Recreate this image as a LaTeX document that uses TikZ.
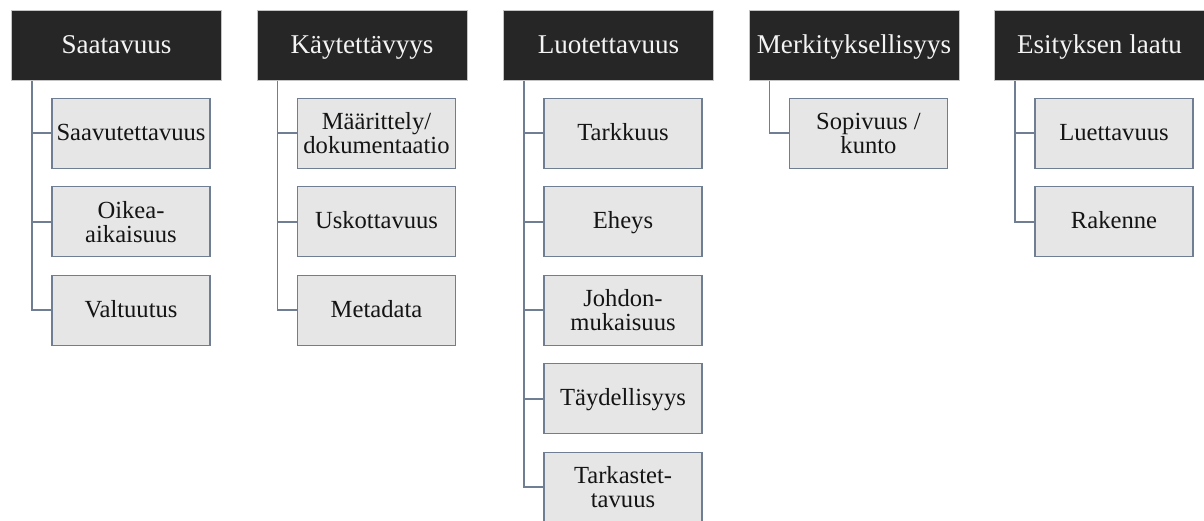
\documentclass[tikz,border=0pt]{standalone}
\usepackage{fontspec}
\setmainfont{Liberation Serif}
\definecolor{hdrfill}{HTML}{262626}
\definecolor{hdrline}{HTML}{C4C4C4}
\definecolor{hdrtext}{HTML}{F4F4F4}
\definecolor{itemfill}{HTML}{E6E6E6}
\definecolor{itemline}{HTML}{6F7E93}
\definecolor{itemtext}{HTML}{141414}
\begin{document}
\begin{tikzpicture}[x=1pt,y=-1pt,
  header/.style={anchor=north west, draw=hdrline, line width=1pt, fill=hdrfill,
    text=hdrtext, minimum width=210pt, minimum height=70pt, inner sep=0pt,
    text height=19pt, text depth=2.4pt,
    align=center, font=\fontsize{27.1}{27.1}\selectfont},
  item/.style={anchor=center, draw=itemline, line width=1.3pt, fill=itemfill,
    text=itemtext, minimum width=158pt, minimum height=70pt, inner sep=0pt,
    align=center, font=\fontsize{24.6}{24}\selectfont},
  oneline/.style={item, text height=17pt, text depth=3pt},
  conn/.style={draw=itemline, line width=1.7pt}]
\useasboundingbox (0,0) rectangle (1204,520);

% column headers
\node[header] (h1) at (11,10)    {Saatavuus};
\node[header] (h2) at (256.5,10) {Käytettävyys};
\node[header] (h3) at (503,10)   {Luotettavuus};
\node[header] (h4) at (748.5,10) {Merkityksellisyys};
\node[header] (h5) at (994,10)   {Esityksen laatu};

% trunk start points below each header
\foreach \i in {1,...,5} {
  \coordinate (t\i) at ([xshift=21pt]h\i.south west);
}

% Saatavuus
\node[oneline] (a1) at (131,133.3) {Saavutettavuus};
\node[item]    (a2) at (131,221.8) {Oikea-\\aikaisuus};
\node[oneline] (a3) at (131,310.3) {Valtuutus};

% Käytettävyys
\node[item]    (b1) at (376.5,133.3) {Määrittely/\\dokumentaatio};
\node[oneline] (b2) at (376.5,221.8) {Uskottavuus};
\node[oneline] (b3) at (376.5,310.3) {Metadata};

% Luotettavuus
\node[oneline] (c1) at (623,133.3) {Tarkkuus};
\node[oneline] (c2) at (623,221.8) {Eheys};
\node[item]    (c3) at (623,310.3) {Johdon-\\mukaisuus};
\node[oneline] (c4) at (623,398.8) {Täydellisyys};
\node[item]    (c5) at (623,487.3) {Tarkastet-\\tavuus};

% Merkityksellisyys
\node[item] (d1) at (868.5,133.3) {Sopivuus /\\kunto};

% Esityksen laatu
\node[oneline] (e1) at (1114,133.3) {Luettavuus};
\node[oneline] (e2) at (1114,221.8) {Rakenne};

% connectors
\foreach \n in {a1,a2,a3} \draw[conn] (t1) |- (\n.west);
\foreach \n in {b1,b2,b3} \draw[conn] (t2) |- (\n.west);
\foreach \n in {c1,c2,c3,c4,c5} \draw[conn] (t3) |- (\n.west);
\draw[conn] (t4) |- (d1.west);
\foreach \n in {e1,e2} \draw[conn] (t5) |- (\n.west);
\end{tikzpicture}
\end{document}
